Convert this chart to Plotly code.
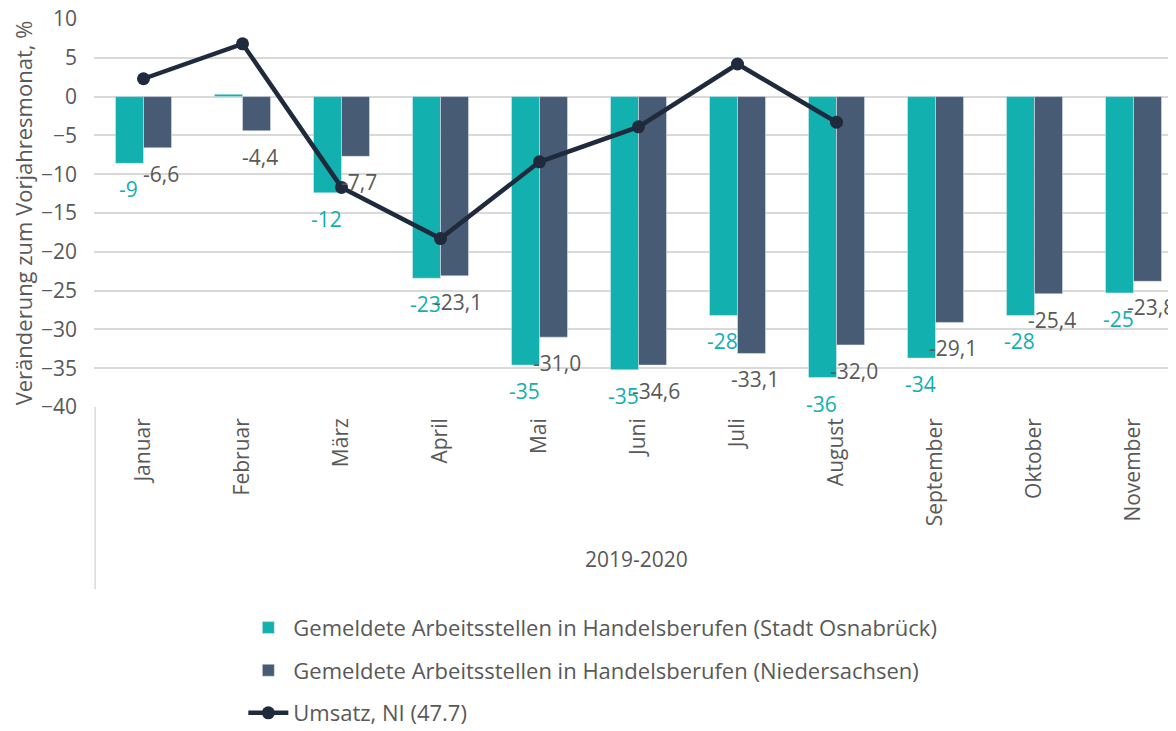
"""Arbeitsstellen in Handelsberufen vs. Umsatz – Plotly recreation."""
import plotly.graph_objects as go

months = ["Januar", "Februar", "März", "April", "Mai", "Juni", "Juli",
          "August", "September", "Oktober", "November"]
osnabrueck = [-8.6, 0.3, -12.4, -23.4, -34.6, -35.2, -28.2, -36.2, -33.7, -28.2, -25.3]
niedersachsen = [-6.6, -4.4, -7.7, -23.1, -31.0, -34.6, -33.1, -32.0, -29.1, -25.4, -23.8]
umsatz = [2.3, 6.8, -11.7, -18.3, -8.4, -3.9, 4.2, -3.3, None, None, None]

TEAL = "#12b0ae"
SLATE = "#475b75"
NAVY = "#1f2b3c"
GREY = "#595959"
FONT = "Open Sans"
FS = 21

fig = go.Figure()
fig.add_trace(go.Bar(
    x=months, y=osnabrueck, marker_color=TEAL, legendgroup="a",
    name="Gemeldete Arbeitsstellen in Handelsberufen (Stadt Osnabrück)",
))
fig.add_trace(go.Bar(
    x=months, y=niedersachsen, marker_color=SLATE, legendgroup="b",
    name="Gemeldete Arbeitsstellen in Handelsberufen (Niedersachsen)",
))
fig.add_trace(go.Scatter(
    x=months, y=umsatz, mode="lines+markers", legendgroup="c",
    line=dict(color=NAVY, width=4.5), marker=dict(size=13, color=NAVY),
    name="Umsatz, NI (47.7)",
))

# data labels below the bar ends
for m, v in zip(months, osnabrueck):
    if round(v) == 0:
        continue
    fig.add_annotation(x=m, y=v, text=f"{round(v)}", showarrow=False,
                       xshift=-15, yshift=-26, yanchor="middle",
                       font=dict(color=TEAL, size=FS, family=FONT))
for m, v in zip(months, niedersachsen):
    fig.add_annotation(x=m, y=v, text=f"{v:.1f}".replace(".", ","), showarrow=False,
                       xshift=17, yshift=-26, yanchor="middle",
                       font=dict(color=GREY, size=FS, family=FONT))

fig.add_annotation(x=0.498, y=-0.433, xref="paper", yref="paper", text="2019-2020",
                   showarrow=False, font=dict(color=GREY, size=FS, family=FONT))
fig.add_shape(type="line", xref="paper", yref="paper", x0=0.001, x1=0.001, y0=0, y1=-0.47,
              line=dict(color="#d9d9d9", width=1.5))

fig.update_layout(
    width=1176, height=731,
    margin=dict(l=86, r=0, t=11, b=332, autoexpand=False),
    paper_bgcolor="white", plot_bgcolor="white",
    font=dict(family=FONT, size=FS, color=GREY),
    barmode="group", bargap=0.434, bargroupgap=0,
    legend=dict(
        x=0.137, y=-0.515, xanchor="left", yanchor="top", tracegroupgap=11,
        font=dict(size=22, color=GREY), itemwidth=40,
    ),
    xaxis=dict(
        range=[-0.5, 10.51], tickangle=-90, showgrid=False, ticks="",
        showline=False, tickfont=dict(size=FS, color=GREY), ticklabelstandoff=6,
    ),
    yaxis=dict(
        range=[-40, 10], dtick=5, showgrid=True, gridcolor="#d9d9d9", gridwidth=1.5,
        zeroline=True, zerolinecolor="#d9d9d9", zerolinewidth=1.5,
        tickfont=dict(size=FS, color=GREY), ticklabelstandoff=16,
        ticklabeloverflow="allow",
        title=dict(text="Veränderung zum Vorjahresmonat, %", standoff=4,
                   font=dict(size=22, color=GREY)),
    ),
)

fig.write_html("out.html")
